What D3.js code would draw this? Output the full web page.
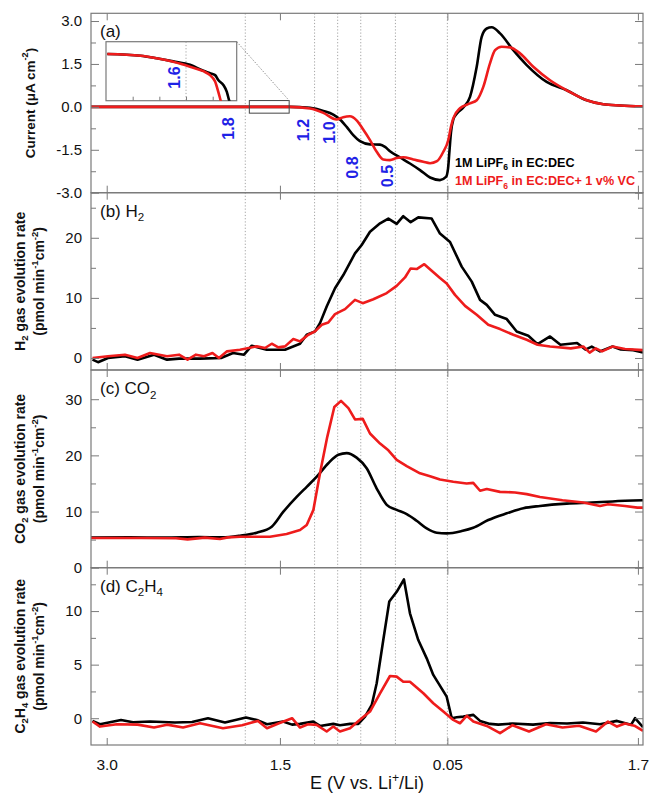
<!DOCTYPE html>
<html><head><meta charset="utf-8">
<script src="https://cdn.jsdelivr.net/npm/d3@7"></script>
<style>
body{margin:0;background:#fff;}
svg{display:block;font-family:"Liberation Sans",Arial,sans-serif;}
</style></head><body>
<svg id="chart" width="652" height="796"></svg>
<script>
// x = scan position in V travelled from the 3.0 V start (0 -> 3.0 V, 2.95 -> 0.05 V, 4.6 -> 1.7 V on the return sweep)
const xTickPos = [0, 1.5, 2.95, 4.6];
const xTickLabels = ["3.0", "1.5", "0.05", "1.7"];
const markerPos = [1.2, 1.8, 2.0, 2.2, 2.5, 2.95];
const markerLabels = ["1.8", "1.2", "1.0", "0.8", "0.5"];

const seriesNames = ["1M LiPF6 in EC:DEC", "1M LiPF6 in EC:DEC+ 1 v% VC"];

// (a) current, µA cm-2
const cvBlackX = [-0.136,0.808,1.587,1.674,1.761,1.876,1.962,2.020,2.078,2.135,2.193,2.280,2.367,2.410,2.453,2.540,2.626,2.713,2.800,2.886,2.938,2.956,2.968,2.981,3.001,3.033,3.088,3.146,3.204,3.247,3.291,3.334,3.406,3.521,3.637,3.810,3.983,4.157,4.300,4.445,4.644];
const cvBlackY = [0,0,0,-0.01,-0.03,-0.14,-0.27,-0.44,-0.70,-0.99,-1.20,-1.31,-1.32,-1.40,-1.55,-1.77,-1.98,-2.21,-2.47,-2.56,-2.45,-2.15,-1.55,-0.90,-0.45,-0.23,-0.02,0.35,1.40,2.45,2.74,2.78,2.57,1.98,1.46,0.87,0.58,0.23,0.09,0.05,0.02];
const cvRedX = [-0.136,1.587,1.761,1.876,1.991,2.048,2.106,2.164,2.221,2.280,2.338,2.395,2.453,2.511,2.568,2.655,2.741,2.800,2.860,2.915,2.958,2.981,3.001,3.059,3.146,3.204,3.261,3.319,3.363,3.420,3.492,3.579,3.694,3.839,3.983,4.157,4.300,4.445,4.644];
const cvRedY = [0,0,-0.06,-0.21,-0.44,-0.36,-0.33,-0.47,-0.79,-1.16,-1.57,-1.84,-1.86,-1.79,-1.76,-1.84,-1.92,-1.97,-1.90,-1.57,-1.16,-0.70,-0.40,-0.05,0.12,0.23,0.70,1.52,1.98,2.10,2.08,1.87,1.40,0.93,0.58,0.23,0.09,0.05,0.02];

// inset of (a): E in V, current in µA cm-2
const insetBlackE = [1.895,1.77,1.71,1.648,1.585,1.535,1.51,1.491,1.479,1.46,1.447,1.438,1.43];
const insetBlackI = [-0.005,-0.0085,-0.0138,-0.020,-0.027,-0.039,-0.044,-0.048,-0.058,-0.068,-0.082,-0.1,-0.11];
const insetRedE = [1.895,1.77,1.71,1.648,1.585,1.535,1.51,1.491,1.479,1.47,1.465];
const insetRedI = [-0.005,-0.0085,-0.0138,-0.021,-0.031,-0.040,-0.048,-0.061,-0.082,-0.1,-0.11];
const insetTicks = [1.8, 1.7, 1.6, 1.5];
const insetGrid = [1.6];
const insetLabel = "1.6";

// (b) H2
const h2BlackX = [-0.123,-0.075,0.011,0.158,0.267,0.410,0.522,0.626,0.808,0.990,1.094,1.189,1.256,1.386,1.544,1.674,1.732,1.804,1.847,1.905,1.977,2.049,2.150,2.208,2.280,2.367,2.439,2.511,2.568,2.632,2.698,2.814,2.886,2.973,3.074,3.161,3.233,3.291,3.363,3.464,3.550,3.651,3.731,3.839,3.929,4.073,4.145,4.200,4.272,4.380,4.452,4.560,4.644];
const h2BlackY = [-0.28,-0.7,0,0.28,-0.28,0.55,-0.28,-0.1,-0.1,0,0.83,0.55,2.04,1.38,1.38,2.37,3.86,4.42,5.80,8.56,11.6,13.8,17.4,18.8,21.0,22.4,23.2,22.3,23.6,22.6,23.4,23.2,20.7,19.3,15.2,12.7,9.67,8.84,7.18,6.47,4.41,3.70,2.3,3.58,2.2,2.5,1.4,1.9,1.1,1.9,1.4,1.3,0.9];
const h2RedX = [-0.123,0.011,0.158,0.267,0.375,0.522,0.626,0.700,0.773,0.843,0.916,0.972,1.042,1.154,1.299,1.371,1.429,1.486,1.544,1.616,1.674,1.746,1.804,1.862,1.919,1.977,2.064,2.150,2.217,2.309,2.425,2.511,2.583,2.632,2.684,2.750,2.814,2.886,2.944,3.016,3.103,3.204,3.304,3.406,3.521,3.637,3.731,3.839,4.019,4.127,4.182,4.235,4.289,4.380,4.488,4.644];
const h2RedY = [0,0.28,0.55,0,0.83,0.28,0.55,-0.28,0.55,0.28,0.83,0,1.1,1.38,1.93,1.66,2.37,1.76,1.93,3.15,2.76,3.86,4.42,5.52,5.91,7.30,8.13,9.67,9.12,9.78,10.8,12.0,13.4,14.9,14.8,15.6,14.5,13.3,12.4,10.5,8.67,7.18,5.52,4.81,3.86,3.03,2.2,1.9,1.6,1.9,0.9,1.6,1.1,1.9,1.5,1.3];

// (c) CO2
const co2BlackX = [-0.136,0.2,0.5,0.8,1.0,1.154,1.299,1.429,1.530,1.645,1.732,1.819,1.919,2.006,2.078,2.164,2.251,2.338,2.425,2.511,2.598,2.684,2.771,2.858,2.944,3.074,3.174,3.304,3.464,3.608,3.752,3.983,4.200,4.380,4.644];
const co2BlackY = [5.35,5.4,5.35,5.45,5.4,5.70,6.23,7.30,9.97,12.6,14.4,16.2,18.6,20.1,20.4,19.6,17.7,14.1,11.2,10.3,9.55,8.36,7.0,6.23,6.11,6.53,7.12,8.49,9.68,10.6,11.0,11.4,11.6,11.8,12.0];
const co2RedX = [-0.136,0.3,0.6,0.700,0.85,0.98,1.05,1.154,1.414,1.558,1.674,1.732,1.790,1.847,1.910,1.971,2.029,2.093,2.150,2.217,2.280,2.367,2.439,2.511,2.598,2.713,2.800,2.886,3.001,3.117,3.174,3.233,3.291,3.406,3.536,3.637,3.752,3.947,4.127,4.272,4.341,4.488,4.596,4.644];
const co2RedY = [5.3,5.3,5.25,5.05,5.35,5.1,5.4,5.52,5.52,6.0,6.7,7.6,10.3,16.8,23.3,28.6,29.7,28.4,26.4,26.5,23.9,22.1,20.9,19.2,18.1,16.8,16.3,15.7,15.3,15.0,15.1,13.7,14.0,13.5,13.4,13.1,12.6,12.0,11.6,11.0,11.3,11.0,10.7,10.7];

// (d) C2H4
const c2BlackX = [-0.123,-0.058,0.124,0.228,0.375,0.591,0.739,0.877,1.024,1.206,1.310,1.388,1.527,1.605,1.674,1.789,1.847,1.962,2.020,2.107,2.179,2.237,2.295,2.338,2.395,2.447,2.511,2.574,2.626,2.698,2.771,2.828,2.944,2.988,3.031,3.088,3.175,3.233,3.319,3.391,3.514,3.692,3.839,3.986,4.124,4.272,4.419,4.540,4.575,4.644];
const c2BlackY = [-0.25,-0.56,-0.16,-0.37,-0.31,-0.4,-0.35,0.0,-0.4,0.06,-0.2,-0.56,-0.3,-0.6,-0.53,-0.31,-0.72,-0.53,-0.65,-0.53,-0.53,0.15,1.24,3.26,7.3,10.9,11.8,12.95,9.79,7.3,5.59,4.04,2.01,0,0.09,0.15,0.31,-0.25,-0.53,-0.6,-0.5,-0.6,-0.45,-0.5,-0.4,-0.56,-0.25,-0.62,0.0,-0.84];
const c2RedX = [-0.123,-0.058,0.089,0.267,0.410,0.522,0.661,0.808,1.007,1.172,1.310,1.388,1.492,1.605,1.674,1.743,1.818,1.905,1.962,2.020,2.107,2.208,2.280,2.367,2.453,2.511,2.568,2.626,2.742,2.828,2.915,3.001,3.059,3.117,3.175,3.291,3.406,3.514,3.657,3.804,3.947,4.090,4.237,4.341,4.419,4.488,4.569,4.644];
const c2RedY = [-0.31,-0.78,-0.56,-0.6,-0.87,-0.6,-0.87,-0.47,-0.93,-0.65,-0.25,-0.93,-0.47,0.0,-0.87,-0.56,-0.62,-1.24,-0.78,-1.24,-0.93,0,0.62,2.33,3.94,3.88,3.41,3.41,2.33,1.40,0.62,-0.16,-0.47,0.22,-0.31,-0.72,-1.40,-0.65,-1.24,-0.56,-0.87,-0.7,-1.24,-0.31,-0.78,-0.5,-0.7,-1.18];

// y ticks per panel
const aTicks = [-3, -1.5, 0, 1.5, 3], aTickLabels = ["-3.0","-1.5","0.0","1.5","3.0"], aMinor = [-2.25,-0.75,0.75,2.25];
const bTicks = [0, 10, 20], bTickLabels = ["0","10","20"], bMinor = [5,15,25];
const cTicks = [0, 10, 20, 30], cTickLabels = ["0","10","20","30"], cMinor = [5,15,25];
const dTicks = [0, 5, 10], dTickLabels = ["0","5","10"], dMinor = [2.5,7.5,12.5];

// ---------------- drawing ----------------
const BLACK = "#000", RED = "#ee1c1c", BLUE = "#1e22e6", FRAME = "#7a7a7a";
const L = 91, R = 643;
const svg = d3.select("#chart");
const x = d3.scaleLinear().domain([-0.136, 4.644]).range([L, R]);
const zip = (xs, ys) => xs.map((v, i) => [v, ys[i]]);

function rich(textSel, parts, size) {
  let shift = 0;
  parts.forEach(p => {
    const target = p.sub ? size * 0.28 : p.sup ? -size * 0.38 : 0;
    textSel.append("tspan").attr("dy", target - shift)
      .attr("font-size", (p.sub || p.sup) ? size * 0.68 : size).text(p.t);
    shift = target;
  });
}

const panels = [
  { top: 13.3, bottom: 192.7, domain: [-3, 3.27], ticks: aTicks, labels: aTickLabels, minor: aMinor,
    series: [[cvBlackX, cvBlackY, BLACK, d3.curveMonotoneX], [cvRedX, cvRedY, RED, d3.curveMonotoneX]],
    title: [{t:"(a)"}], ylab: [[{t:"Current ("},{t:"\u03bc"},{t:"A cm"},{t:"-2",sup:true},{t:")"}]] },
  { top: 192.7, bottom: 370, domain: [-2, 27.5], ticks: bTicks, labels: bTickLabels, minor: bMinor,
    series: [[h2BlackX, h2BlackY, BLACK, d3.curveLinear], [h2RedX, h2RedY, RED, d3.curveLinear]],
    title: [{t:"(b) H"},{t:"2",sub:true}],
    ylab: [[{t:"H"},{t:"2",sub:true},{t:" gas evolution rate"}], [{t:"(pmol min"},{t:"-1",sup:true},{t:"cm"},{t:"-2",sup:true},{t:")"}]] },
  { top: 370, bottom: 567.7, domain: [0, 35.2], ticks: cTicks, labels: cTickLabels, minor: cMinor,
    series: [[co2BlackX, co2BlackY, BLACK, d3.curveMonotoneX], [co2RedX, co2RedY, RED, d3.curveLinear]],
    title: [{t:"(c) CO"},{t:"2",sub:true}],
    ylab: [[{t:"CO"},{t:"2",sub:true},{t:" gas evolution rate"}], [{t:"(pmol min"},{t:"-1",sup:true},{t:"cm"},{t:"-2",sup:true},{t:")"}]] },
  { top: 567.7, bottom: 745, domain: [-2.5, 14.05], ticks: dTicks, labels: dTickLabels, minor: dMinor,
    series: [[c2BlackX, c2BlackY, BLACK, d3.curveLinear], [c2RedX, c2RedY, RED, d3.curveLinear]],
    title: [{t:"(d) C"},{t:"2",sub:true},{t:"H"},{t:"4",sub:true}],
    ylab: [[{t:"C"},{t:"2",sub:true},{t:"H"},{t:"4",sub:true},{t:" gas evolution rate"}], [{t:"(pmol min"},{t:"-1",sup:true},{t:"cm"},{t:"-2",sup:true},{t:")"}]] }
];

// dotted markers across all panels
svg.append("g").selectAll("line").data(markerPos).join("line")
  .attr("x1", d => x(d)).attr("x2", d => x(d))
  .attr("y1", panels[0].top).attr("y2", panels[3].bottom)
  .attr("stroke", "#9a9a9a").attr("stroke-width", 0.9).attr("stroke-dasharray", "1.2,2");

const defs = svg.append("defs");

panels.forEach((p, i) => {
  const y = d3.scaleLinear().domain(p.domain).range([p.bottom, p.top]);
  p.y = y;
  defs.append("clipPath").attr("id", "clip" + i).append("rect")
    .attr("x", L).attr("y", p.top).attr("width", R - L).attr("height", p.bottom - p.top);
  const g = svg.append("g").attr("clip-path", `url(#clip${i})`);
  p.series.forEach(([xs, ys, col, curve]) => {
    g.append("path").datum(zip(xs, ys))
      .attr("fill", "none").attr("stroke", col).attr("stroke-width", 2.6)
      .attr("stroke-linejoin", "round")
      .attr("d", d3.line().x(d => x(d[0])).y(d => y(d[1])).curve(curve));
  });

  // axes
  const styleAxis = sel => { sel.select(".domain").remove(); sel.selectAll("line").attr("stroke", FRAME).attr("stroke-width", 1); };
  svg.append("g").attr("transform", `translate(${L},0)`)
    .call(d3.axisLeft(y).tickValues(p.ticks).tickFormat((d, k) => p.labels[k]).tickSizeInner(-8).tickSizeOuter(0).tickPadding(9))
    .call(styleAxis)
    .call(s => s.selectAll("text").attr("font-size", 15).attr("font-family", "Liberation Sans, Arial, sans-serif").attr("fill", "#111"));
  svg.append("g").attr("transform", `translate(${L},0)`)
    .call(d3.axisLeft(y).tickValues(p.minor).tickFormat("").tickSizeInner(-5).tickSizeOuter(0)).call(styleAxis);
  svg.append("g").attr("transform", `translate(${R},0)`)
    .call(d3.axisRight(y).tickValues(p.ticks).tickFormat("").tickSizeInner(-8).tickSizeOuter(0)).call(styleAxis);
  svg.append("g").attr("transform", `translate(${R},0)`)
    .call(d3.axisRight(y).tickValues(p.minor).tickFormat("").tickSizeInner(-5).tickSizeOuter(0)).call(styleAxis);
  svg.append("g").attr("transform", `translate(0,${p.top})`)
    .call(d3.axisTop(x).tickValues(xTickPos).tickFormat("").tickSizeInner(-7).tickSizeOuter(0)).call(styleAxis);
  const bottomAx = svg.append("g").attr("transform", `translate(0,${p.bottom})`)
    .call(d3.axisBottom(x).tickValues(xTickPos).tickFormat((d, k) => i === 3 ? xTickLabels[k] : "").tickSizeInner(-7).tickSizeOuter(0).tickPadding(14))
    .call(styleAxis);
  bottomAx.selectAll("text").attr("font-size", 15.5).attr("font-family", "Liberation Sans, Arial, sans-serif").attr("fill", "#111");

  svg.append("rect").attr("x", L).attr("y", p.top).attr("width", R - L).attr("height", p.bottom - p.top)
    .attr("fill", "none").attr("stroke", FRAME).attr("stroke-width", 1.2);

  // panel title
  const tt = svg.append("text").attr("x", 100).attr("y", p.top + 24).attr("fill", "#111");
  rich(tt, p.title, 17);

  // y label
  const cy = (p.top + p.bottom) / 2;
  const xs = p.ylab.length === 1 ? [30] : [20, 39];
  p.ylab.forEach((parts, k) => {
    const t = svg.append("text").attr("transform", `translate(${xs[k]},${cy}) rotate(-90)`)
      .attr("text-anchor", "middle").attr("dominant-baseline", "central")
      .attr("font-weight", "bold").attr("fill", "#111");
    rich(t, parts, p.ylab.length === 1 ? 13.5 : 14);
  });
});

// x axis title
const xt = svg.append("text").attr("x", 367).attr("y", 789).attr("text-anchor", "middle").attr("fill", "#111");
rich(xt, [{t:"E (V vs. Li"},{t:"+",sup:true},{t:"/Li)"}], 18);

// blue potential labels
const labelSpots = [[228.5, 128.5], [303.5, 130], [329, 132.5], [352.5, 167.5], [387.5, 176]];
markerLabels.forEach((s, k) => {
  svg.append("text").attr("transform", `translate(${labelSpots[k][0]},${labelSpots[k][1]}) rotate(-90)`)
    .attr("text-anchor", "middle").attr("dominant-baseline", "central")
    .attr("font-weight", "bold").attr("font-size", 16).attr("fill", BLUE).text(s);
});

// legend
seriesNames.forEach((name, k) => {
  const t = svg.append("text").attr("x", 455).attr("y", k === 0 ? 166.5 : 185)
    .attr("font-weight", "bold").attr("fill", k === 0 ? BLACK : RED);
  const parts = name.split("6");
  rich(t, [{t: parts[0]}, {t: "6", sub: true}, {t: parts[1]}], 12.6);
});

// zoom box on main curve and connector
const ya = panels[0].y;
const boxT = [1.235, 1.58], boxI = [-0.22, 0.22];
svg.append("rect").attr("x", x(boxT[0])).attr("y", ya(boxI[1]))
  .attr("width", x(boxT[1]) - x(boxT[0])).attr("height", ya(boxI[0]) - ya(boxI[1]))
  .attr("fill", "none").attr("stroke", "#444").attr("stroke-width", 1);

// inset
const ix = d3.scaleLinear().domain([1.9, 1.41]).range([106, 236.7]);
const iy = d3.scaleLinear().domain([-0.10, 0.02]).range([100.7, 41.7]);
svg.append("line").attr("x1", 236.7).attr("y1", 41.7).attr("x2", x(boxT[1])).attr("y2", ya(boxI[1]))
  .attr("stroke", "#888").attr("stroke-width", 0.9).attr("stroke-dasharray", "1.5,1.5");
svg.append("rect").attr("x", 106).attr("y", 41.7).attr("width", 130.7).attr("height", 59)
  .attr("fill", "#fff").attr("stroke", FRAME).attr("stroke-width", 1.2);
svg.append("g").selectAll("line").data(insetGrid).join("line")
  .attr("x1", d => ix(d)).attr("x2", d => ix(d)).attr("y1", 41.7).attr("y2", 100.7)
  .attr("stroke", "#9a9a9a").attr("stroke-width", 0.9).attr("stroke-dasharray", "1.2,2");
svg.append("g").attr("transform", "translate(0,100.7)")
  .call(d3.axisBottom(ix).tickValues(insetTicks).tickFormat("").tickSizeInner(-4).tickSizeOuter(0))
  .call(s => { s.select(".domain").remove(); s.selectAll("line").attr("stroke", FRAME); });
defs.append("clipPath").attr("id", "clipInset").append("rect").attr("x", 106).attr("y", 41.7).attr("width", 130.7).attr("height", 59);
const ig = svg.append("g").attr("clip-path", "url(#clipInset)");
[[insetBlackE, insetBlackI, BLACK], [insetRedE, insetRedI, RED]].forEach(([es, is, col]) => {
  ig.append("path").datum(zip(es, is)).attr("fill", "none").attr("stroke", col).attr("stroke-width", 2.6)
    .attr("d", d3.line().x(d => ix(d[0])).y(d => iy(d[1])).curve(d3.curveMonotoneX));
});
svg.append("text").attr("transform", `translate(174,77.5) rotate(-90)`)
  .attr("text-anchor", "middle").attr("dominant-baseline", "central")
  .attr("font-weight", "bold").attr("font-size", 16).attr("fill", BLUE).text(insetLabel);
</script>
</body></html>
